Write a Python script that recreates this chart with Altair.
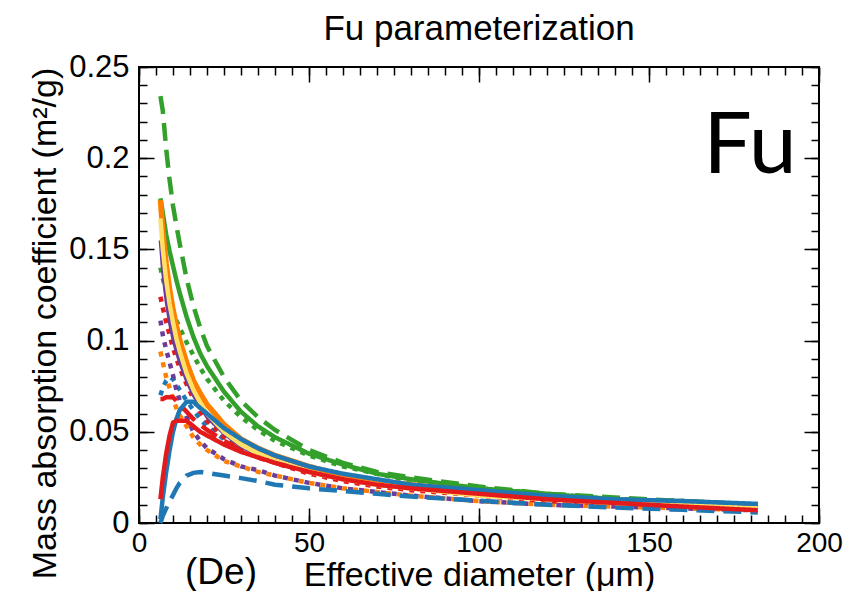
import altair as alt
import pandas as pd

FONT = "Liberation Sans"

# Effective diameter grid (um)
D = [6.3, 7, 8, 9, 10, 11, 12, 14, 16, 18, 20, 25, 30, 35, 40, 50, 60, 70, 80, 100, 120, 140, 160, 182]

green_dashed = [.234, .226, .205, .188, .174, .163, .153, .134, .119, .107, .097, .080, .067, .058, .051, .040, .033, .028, .025, .020, .016, .014, .012, .010]
green_solid = [.178, .170, .158, .149, .141, .133, .126, .113, .102, .093, .086, .072, .061, .053, .047, .038, .032, .027, .024, .019, .016, .013, .012, .010]
green_dotted = [.140, .134, .127, .121, .116, .111, .107, .099, .092, .085, .079, .067, .058, .051, .045, .037, .031, .027, .023, .019, .016, .013, .012, .010]
orange_solid = [.177, .160, .142, .128, .117, .108, .100, .088, .078, .071, .065, .054, .046, .041, .037, .031, .026, .023, .021, .017, .014, .012, .011, .009]
yellow_solid = [.167, .150, .133, .120, .110, .101, .094, .082, .073, .066, .060, .050, .043, .038, .034, .028, .024, .021, .019, .015, .013, .011, .010, .008]
purple_solid = [.155, .138, .122, .110, .101, .094, .088, .078, .070, .064, .058, .049, .042, .037, .034, .028, .024, .021, .019, .016, .013, .011, .010, .009]
red_dotted = [.124, .118, .110, .103, .096, .090, .085, .076, .068, .061, .056, .047, .041, .036, .033, .027, .023, .020, .018, .015, .012, .011, .009, .008]
purple_dotted = [.111, .103, .095, .088, .081, .073, .067, .058, .050, .045, .041, .035, .031, .029, .026, .022, .019, .017, .015, .012, .010, .009, .008, .007]
orange_dotted = [.094, .088, .080, .074, .068, .063, .059, .053, .047, .043, .040, .034, .031, .028, .026, .022, .019, .017, .015, .012, .010, .009, .008, .007]
blue_dotted = [.070, .074, .078, .080, .079, .076, .073, .067, .062, .057, .053, .046, .041, .037, .033, .028, .024, .021, .019, .016, .013, .011, .010, .009]
red_dashed = [.068, .068, .069, .069, .069, .067, .065, .061, .057, .054, .051, .045, .040, .036, .033, .028, .024, .021, .019, .016, .013, .011, .010, .008]
red_solid = [.013, .025, .038, .048, .055, .056, .056, .056, .053, .050, .048, .043, .039, .036, .033, .028, .024, .021, .019, .016, .013, .011, .009, .007]
blue_solid = [.002, .014, .028, .040, .050, .057, .062, .0665, .0665, .063, .060, .052, .046, .041, .037, .031, .027, .024, .021, .018, .015, .013, .012, .0105]
blue_dashed = [.000, .004, .008, .012, .0153, .019, .022, .026, .0275, .028, .0275, .026, .0246, .023, .021, .019, .0175, .016, .0145, .0122, .010, .0085, .0072, .0058]

GREEN, ORANGE, YELLOW = "#33a02c", "#ff7f00", "#ffe066"
PURPLE, RED, BLUE = "#6a3d9a", "#e31a1c", "#1f78b4"

DASH = {"solid": [1, 0], "dashed": [18, 9], "dotted": [5, 6]}

# drawing order: first drawn = bottom
series = [
    ("blue_dotted", BLUE, "dotted", blue_dotted, 4.5),
    ("orange_dotted", ORANGE, "dotted", orange_dotted, 4.5),
    ("purple_dotted", PURPLE, "dotted", purple_dotted, 4.5),
    ("red_dotted", RED, "dotted", red_dotted, 4.5),
    ("green_dotted", GREEN, "dotted", green_dotted, 4.5),
    ("blue_dashed", BLUE, "dashed", blue_dashed, 4.5),
    ("red_dashed", RED, "dashed", red_dashed, 4.5),
    ("green_dashed", GREEN, "dashed", green_dashed, 4.5),
    ("green_solid", GREEN, "solid", green_solid, 4.5),
    ("orange_solid", ORANGE, "solid", orange_solid, 5.5),
    ("purple_solid", PURPLE, "solid", purple_solid, 3.5),
    ("yellow_solid", YELLOW, "solid", yellow_solid, 4.5),
    ("blue_solid", BLUE, "solid", blue_solid, 4.5),
    ("red_solid", RED, "solid", red_solid, 4.5),
]

x_major = [0, 50, 100, 150, 200]
x_minor = list(range(0, 201, 5))
y_major = [0, 0.05, 0.1, 0.15, 0.2, 0.25]
y_minor = [round(i * 0.01, 2) for i in range(26)]

xs = alt.Scale(domain=[0, 200], nice=False, zero=False)
ys = alt.Scale(domain=[0, 0.25], nice=False, zero=False)

axis_df = pd.DataFrame({"x": [0, 200], "y": [0, 0.25]})


def axis_layer(xaxis, yaxis):
    return alt.Chart(axis_df).mark_point(opacity=0).encode(
        x=alt.X("x:Q", scale=xs, axis=xaxis),
        y=alt.Y("y:Q", scale=ys, axis=yaxis),
    )


def tick_axis(orient, values, size):
    return alt.Axis(orient=orient, values=values, labels=False, domain=False, grid=False,
                    ticks=True, tickSize=size, offset=-size, tickColor="black",
                    tickWidth=1.5, title=None)


labels_layer = axis_layer(
    alt.Axis(orient="bottom", values=x_major, format="d", ticks=False, domain=False, grid=False,
             labelFont=FONT, labelFontSize=28, labelColor="black", labelPadding=6,
             labelFlush=False, labelOverlap=False,
             title="Effective diameter (\u03bcm)", titleFont=FONT, titleFontSize=34,
             titleFontWeight="normal", titleColor="black", titleX=340, titleY=62,
             titleAlign="center", titleBaseline="alphabetic"),
    alt.Axis(orient="left", values=y_major, format="~g", ticks=False, domain=False, grid=False,
             labelFont=FONT, labelFontSize=31, labelColor="black", labelPadding=10,
             labelFlush=False, labelOverlap=False,
             title="Mass absorption coefficient (m\u00b2/g)", titleFont=FONT, titleFontSize=34,
             titleFontWeight="normal", titleColor="black", titleAngle=270,
             titleX=-94, titleY=256, titleAlign="center", titleBaseline="middle"),
)

layers = [
    labels_layer,
    axis_layer(tick_axis("bottom", x_major, 15), tick_axis("left", y_major, 15)),
    axis_layer(tick_axis("bottom", x_minor, 8), tick_axis("left", y_minor, 8)),
    axis_layer(tick_axis("top", x_major, 15), tick_axis("right", y_major, 15)),
    axis_layer(tick_axis("top", x_minor, 8), tick_axis("right", y_minor, 8)),
]

for name, color, style, vals, w in series:
    df = pd.DataFrame({"D": D, "v": vals})
    layers.append(
        alt.Chart(df).mark_line(color=color, strokeWidth=w, strokeDash=DASH[style]).encode(
            x=alt.X("D:Q", scale=xs, axis=None),
            y=alt.Y("v:Q", scale=ys, axis=None),
        )
    )

ann = pd.DataFrame({"t": [0]})
layers.append(
    alt.Chart(ann).mark_text(text="Fu parameterization", font=FONT, fontSize=35, color="black",
                             align="center", baseline="alphabetic").encode(
        x=alt.value(340), y=alt.value(-27))
)
layers.append(
    alt.Chart(ann).mark_text(text="Fu", font="Lato", fontSize=86, color="black",
                             align="center", baseline="alphabetic").encode(
        x=alt.value(611), y=alt.value(106))
)
layers.append(
    alt.Chart(ann).mark_text(text="(De)", font=FONT, fontSize=37, color="black",
                             align="center", baseline="alphabetic").encode(
        x=alt.value(82), y=alt.value(517))
)

chart = alt.layer(*layers).resolve_axis(x="independent", y="independent").properties(
    width=680, height=456,
    autosize=alt.AutoSizeParams(type="none"),
    padding={"left": 131, "top": 59, "right": 24, "bottom": 68},
).configure_view(stroke="black", strokeWidth=2)

chart.save("out.html", embed_options={"renderer": "svg", "actions": False})
